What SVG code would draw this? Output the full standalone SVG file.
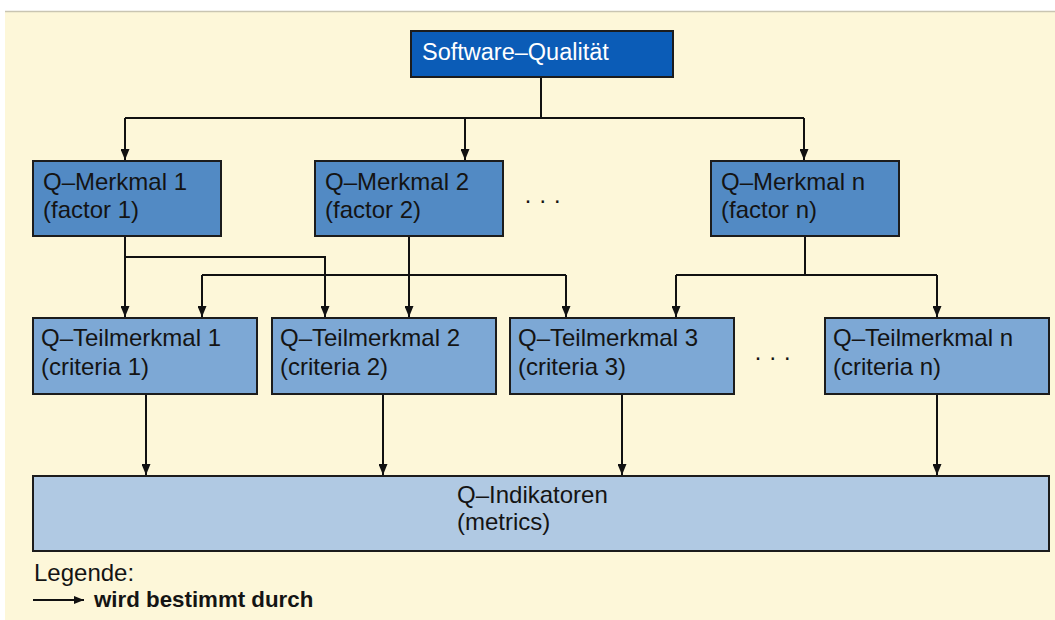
<svg xmlns="http://www.w3.org/2000/svg" width="1055" height="620" viewBox="0 0 1055 620">
  <defs>
    <marker id="arrow" viewBox="0 0 11 9" refX="11" refY="4.5" markerWidth="11" markerHeight="9" markerUnits="userSpaceOnUse" orient="auto">
      <path d="M0,0 L11,4.5 L0,9 Z" fill="#111"/>
    </marker>
    <marker id="arrow-small" viewBox="0 0 10 8" refX="10" refY="4" markerWidth="10" markerHeight="8" markerUnits="userSpaceOnUse" orient="auto">
      <path d="M0,0 L10,4 L0,8 Z" fill="#111"/>
    </marker>
  </defs>
  <style>
    .box { stroke: #1c1c1c; stroke-width: 2; }
    .top { fill: #0b5cb7; }
    .factor { fill: #528ac4; }
    .criteria { fill: #7da8d5; }
    .metrics { fill: #b0c9e3; }
    text { font-family: "Liberation Sans", Arial, sans-serif; font-size: 24px; fill: #141414; }
    .white { fill: #ffffff; font-size: 23.5px; }
    .bold { font-weight: bold; font-size: 22.3px; }
    .link { fill: none; stroke: #111; stroke-width: 2; }
    .arr { marker-end: url(#arrow); }
  </style>

  <!-- page background -->
  <rect x="0" y="0" width="1055" height="620" fill="#ffffff"/>
  <rect x="5" y="11" width="1050" height="609" fill="#fdf7d9"/>
  <line x1="5" y1="11.5" x2="1055" y2="11.5" stroke="#c9c5b2" stroke-width="1.5"/>

  <!-- connectors -->
  <g id="connectors">
    <path class="link" d="M541,77 V118 M125,118 H804"/>
    <path class="link arr" d="M125,118 V160"/>
    <path class="link arr" d="M465,118 V160"/>
    <path class="link arr" d="M804,118 V160"/>

    <path class="link arr" d="M125,236 V317"/>
    <path class="link arr" d="M125,257 H325 V317"/>

    <path class="link arr" d="M409,236 V317"/>
    <path class="link" d="M202,275 H566"/>
    <path class="link arr" d="M202,275 V317"/>
    <path class="link arr" d="M566,275 V317"/>

    <path class="link" d="M805,236 V275 M676,275 H937"/>
    <path class="link arr" d="M676,275 V317"/>
    <path class="link arr" d="M937,275 V317"/>

    <path class="link arr" d="M146,394 V475"/>
    <path class="link arr" d="M383,394 V475"/>
    <path class="link arr" d="M622,394 V475"/>
    <path class="link arr" d="M937,394 V475"/>
  </g>

  <!-- top node -->
  <g id="software-qualitaet">
    <rect class="box top" x="411" y="31" width="262" height="46"/>
    <text class="white" x="422" y="60">Software–Qualität</text>
  </g>

  <!-- factors -->
  <g id="merkmal-1">
    <rect class="box factor" x="33" y="161" width="188" height="75"/>
    <text x="43" y="190">Q–Merkmal 1</text>
    <text x="43" y="218">(factor 1)</text>
  </g>
  <g id="merkmal-2">
    <rect class="box factor" x="315" y="161" width="188" height="75"/>
    <text x="325" y="190">Q–Merkmal 2</text>
    <text x="325" y="218">(factor 2)</text>
  </g>
  <g id="merkmal-n">
    <rect class="box factor" x="711" y="161" width="188" height="75"/>
    <text x="721" y="190">Q–Merkmal n</text>
    <text x="721" y="218">(factor n)</text>
  </g>
  <text x="524" y="208">· · ·</text>

  <!-- criteria -->
  <g id="teilmerkmal-1">
    <rect class="box criteria" x="33" y="318" width="224" height="76"/>
    <text x="41" y="346">Q–Teilmerkmal 1</text>
    <text x="41" y="375">(criteria 1)</text>
  </g>
  <g id="teilmerkmal-2">
    <rect class="box criteria" x="272" y="318" width="224" height="76"/>
    <text x="280" y="346">Q–Teilmerkmal 2</text>
    <text x="280" y="375">(criteria 2)</text>
  </g>
  <g id="teilmerkmal-3">
    <rect class="box criteria" x="510" y="318" width="224" height="76"/>
    <text x="518" y="346">Q–Teilmerkmal 3</text>
    <text x="518" y="375">(criteria 3)</text>
  </g>
  <g id="teilmerkmal-n">
    <rect class="box criteria" x="825" y="318" width="224" height="76"/>
    <text x="833" y="346">Q–Teilmerkmal n</text>
    <text x="833" y="375">(criteria n)</text>
  </g>
  <text x="754" y="365">· · ·</text>

  <!-- metrics -->
  <g id="indikatoren">
    <rect class="box metrics" x="33" y="476" width="1016" height="75"/>
    <text x="457" y="503">Q–Indikatoren</text>
    <text x="457" y="530">(metrics)</text>
  </g>

  <!-- legend -->
  <g id="legend">
    <text x="34" y="581">Legende:</text>
    <line x1="33" y1="600" x2="84" y2="600" stroke="#111" stroke-width="2" marker-end="url(#arrow-small)"/>
    <text class="bold" x="94" y="607">wird bestimmt durch</text>
  </g>
</svg>
